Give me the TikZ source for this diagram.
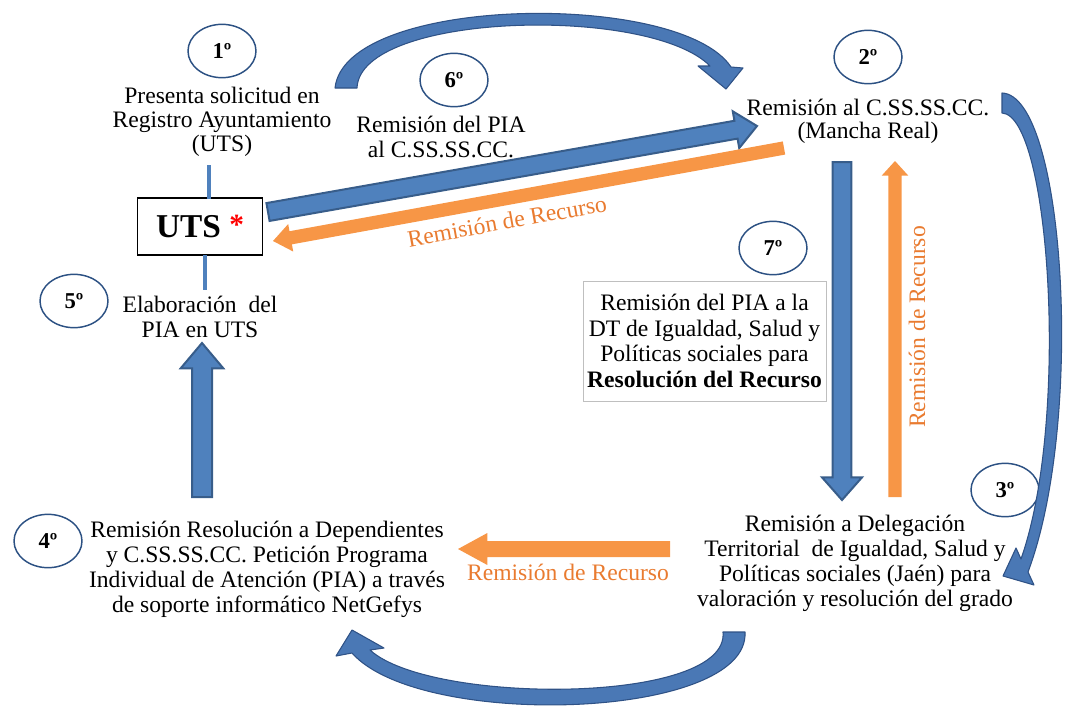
\documentclass[tikz,border=0pt]{standalone}
\usepackage{fontspec}
\setmainfont{Liberation Serif}
\usetikzlibrary{calc,shapes.geometric}
\definecolor{bfill}{HTML}{4F81BD}
\definecolor{bdraw}{HTML}{385D8A}
\definecolor{cfill}{HTML}{4A78B5}
\definecolor{cdraw}{HTML}{2F5286}
\definecolor{ofill}{HTML}{F79646}
\definecolor{otext}{HTML}{E97B30}
\definecolor{ell}{HTML}{2C5183}
\definecolor{gbox}{HTML}{BFBFBF}
% #1 name, #2 style, #3 from, #4 to, #5 half shaft, #6 half head, #7 head length
\newcommand\blockarr[7]{%
  \coordinate (#1h) at ($(#4)!#7!(#3)$);
  \path[#2] ($(#3)!#5!90:(#4)$) -- ($(#1h)!#5!90:(#4)$) -- ($(#1h)!#6!90:(#4)$) -- (#4)
    -- ($(#1h)!#6!-90:(#4)$) -- ($(#1h)!#5!-90:(#4)$) -- ($(#3)!#5!-90:(#4)$) -- cycle;}
\begin{document}
\begin{tikzpicture}[x=0.75pt,y=-0.75pt,
  txt/.style={align=center, font=\fontsize{17.7}{18.2}\selectfont, inner sep=0pt},
  num/.style={ellipse, draw=ell, line width=1.1pt, minimum width=51pt, minimum height=40pt, inner sep=0pt, font=\fontsize{17}{18}\selectfont\bfseries},
  barrow/.style={fill=bfill, draw=bdraw, line width=1.5pt, line join=miter},
  oarrow/.style={fill=ofill},
  carrow/.style={fill=cfill, draw=cdraw, line width=0.8pt, line join=round},
  olabel/.style={text=otext, font=\fontsize{17.7}{18}\selectfont, inner sep=0pt},
  link/.style={draw=bfill, line width=3pt}]
\path[use as bounding box] (0,0) rectangle (1067,708);

% numbered ellipses
\node[num] (n1) at (222,51) {1º};
\node[num] (n2) at (868,57) {2º};
\node[num] (n3) at (1005,490) {3º};
\node[num] (n4) at (48,541) {4º};
\node[num] (n5) at (74,301) {5º};
\node[num] (n6) at (454,80) {6º};
\node[num] (n7) at (773,248) {7º};

% texts
\node[txt] (t1) at (222,122) {Presenta solicitud en\\Registro Ayuntamiento\\(UTS)};
\node[draw=black, line width=1.2pt, minimum width=93.75pt, minimum height=42.75pt, inner sep=0pt] (uts) at (200,226.5)
  {\fontsize{25}{27}\selectfont\bfseries UTS \raisebox{2pt}{\textcolor{red}{\fontsize{22}{22}\selectfont *}}};
\node[txt] (t5) at (200,317) {Elaboración\ \ del\\PIA en UTS};
\node[txt, font=\fontsize{17.7}{18.8}\selectfont] (t4) at (267,569) {Remisión Resolución a Dependientes\\y C.SS.SS.CC. Petición Programa\\Individual de Atención (PIA) a través\\de soporte informático NetGefys};
\node[txt, font=\fontsize{17.7}{18.8}\selectfont] (t3) at (855,563) {Remisión a Delegación\\Territorial\ \ de Igualdad, Salud y\\Políticas sociales (Jaén) para\\valoración y resolución del grado};
\node[txt, font=\fontsize{17.7}{17.4}\selectfont] (t2) at (868,121) {Remisión al C.SS.SS.CC.\\(Mancha Real)};
\node[txt, font=\fontsize{17.7}{18.8}\selectfont] (t6) at (441,137) {Remisión del PIA\\al C.SS.SS.CC.};
\node[draw=gbox, line width=0.6pt, minimum width=182.25pt, minimum height=90pt, inner sep=0pt,
  align=center, font=\fontsize{17.7}{19.3}\selectfont] (t7) at (704.5,341)
  {Remisión del PIA a la\\DT de Igualdad, Salud y\\Políticas sociales para\\\textbf{Resolución del Recurso}};

% short links to UTS
\coordinate (l1a) at (209,165); \coordinate (l1b) at (209,198.5);
\coordinate (l2a) at (205,255); \coordinate (l2b) at (205,290);
\draw[link] (l1a) -- (l1b);
\draw[link] (l2a) -- (l2b);

% straight block arrows
\coordinate (a6s) at (268,212); \coordinate (a6e) at (757,126);
\blockarr{a6}{barrow}{a6s}{a6e}{6.8pt}{14pt}{16pt}
\coordinate (r1s) at (784,148); \coordinate (r1e) at (273,241);
\blockarr{r1}{oarrow}{r1s}{r1e}{5pt}{10.5pt}{13.5pt}
\coordinate (a7s) at (842,162); \coordinate (a7e) at (842,500);
\blockarr{a7}{barrow}{a7s}{a7e}{7pt}{15pt}{17pt}
\coordinate (r2s) at (895,497); \coordinate (r2e) at (895,161);
\blockarr{r2}{oarrow}{r2s}{r2e}{5pt}{10pt}{11pt}
\coordinate (a5s) at (202,497); \coordinate (a5e) at (202,343);
\blockarr{a5}{barrow}{a5s}{a5e}{7.5pt}{16pt}{19pt}
\coordinate (r3s) at (670,549); \coordinate (r3e) at (458,549);
\blockarr{r3}{oarrow}{r3s}{r3e}{6pt}{12pt}{22pt}

% orange labels
\node[olabel, rotate=10.3] (lr1) at (507,221) {Remisión de Recurso};
\node[olabel, rotate=90] (lr2) at (917,327) {Remisión de Recurso};
\node[olabel] (lr3) at (568,572) {Remisión de Recurso};

% curved arrows
\path[carrow] (357,88) -- (335,88) .. controls (345,-5) and (680,-10) .. (731,67)
  -- (743,68) -- (726,89) -- (698,66) -- (710,66) .. controls (650,5) and (360,12) .. (357,88) -- cycle;
\path[carrow] (1002,113) -- (1002,93) .. controls (1065,95) and (1085,420) .. (1028,572)
  -- (1034,585) -- (1003,576) -- (1016,548) -- (1021,559) .. controls (1070,420) and (1050,115) .. (1002,113) -- cycle;
\path[carrow] (723,632) -- (745,632) .. controls (750,720) and (420,730) .. (352,653)
  -- (336,656) -- (352,630) -- (384,648) -- (370,650) .. controls (430,705) and (730,705) .. (723,632) -- cycle;
\end{tikzpicture}
\end{document}
